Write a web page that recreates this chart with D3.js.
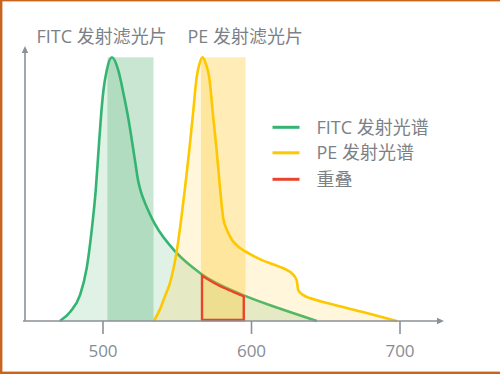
<!DOCTYPE html>
<html>
<head>
<meta charset="utf-8">
<script src="https://cdn.jsdelivr.net/npm/d3@7"></script>
<style>
  html, body { margin: 0; padding: 0; background: #fff; }
  svg { display: block; }
  text { font-family: "Open Sans", "Noto Sans CJK SC", sans-serif; }
</style>
</head>
<body>
<svg id="chart" width="500" height="375"></svg>
<script>
// Dados (comprimento de onda em nm, intensidade relativa 0-100)
const fitcNm  = [471, 478, 484.5, 489, 492.4, 495.1, 497, 498.7, 500.3, 502.5, 506, 510.3, 513.7, 517, 521.5, 523.6, 525.6, 528.3, 531.6, 535, 549.6, 565.3, 594.5, 618, 644];
const fitcVal = [0, 3.5, 9.8, 20, 34.5, 49.6, 64.8, 78, 87.5, 95, 100, 95, 86.5, 77, 61, 53.4, 48.9, 44.7, 40.5, 36.7, 25.8, 18.2, 9.8, 4.9, 0];

const peNm  = [534.3, 538.4, 541.8, 545.1, 549.6, 555.2, 558.1, 560.4, 563.1, 565, 567.1, 569.2, 571.5, 574.2, 576.5, 578.8, 581, 583.5, 586.9, 592.3, 599, 607.1, 617.8, 624.6, 627.3, 630.4, 631.5, 634.9, 639.4, 651.7, 674.4, 698];
const peVal = [0, 4.5, 9.5, 14.4, 26.3, 50.4, 64.8, 77.4, 92.5, 97.6, 100, 97.6, 92.5, 77.4, 64.8, 50.4, 38.9, 34.5, 30.7, 27.7, 25.4, 23.1, 20.8, 19.1, 18, 15.5, 11.7, 9.8, 8.7, 6.7, 3.5, 0];

// Faixas dos filtros de emissão
const fitcFiltro = [503, 534];
const peFiltro = [566, 596];

const ticksX = [500, 600, 700];
const titulos = ["FITC 发射滤光片", "PE 发射滤光片"];
const legendaRotulos = ["FITC 发射光谱", "PE 发射光谱", "重叠"];

const corFitc = "#33b473";
const corPe = "#fdc800";
const corOverlap = "#e8452b";
const corEixo = "#8a9197";
const corTexto = "#7b8186";

const svg = d3.select("#chart");

// Moldura laranja
svg.append("rect")
  .attr("x", 1.2).attr("y", 0.2)
  .attr("width", 520).attr("height", 372.6)
  .attr("fill", "none")
  .attr("stroke", "#c9641f")
  .attr("stroke-width", 2.4);

const x = d3.scaleLinear().domain([500, 700]).range([103, 400]);
const y = d3.scaleLinear().domain([0, 100]).range([321, 57.3]);

const fitcDados = fitcNm.map((n, i) => [n, fitcVal[i]]);
const peDados = peNm.map((n, i) => [n, peVal[i]]);

const area = d3.area()
  .x(d => x(d[0])).y0(y(0)).y1(d => y(d[1]))
  .curve(d3.curveMonotoneX);
const linha = d3.line()
  .x(d => x(d[0])).y(d => y(d[1]))
  .curve(d3.curveMonotoneX);

// FITC
svg.append("path").attr("d", area(fitcDados))
  .attr("fill", "rgb(62,166,94)").attr("fill-opacity", 0.16);
svg.append("rect")
  .attr("x", x(fitcFiltro[0])).attr("y", y(100))
  .attr("width", x(fitcFiltro[1]) - x(fitcFiltro[0]))
  .attr("height", y(0) - y(100))
  .attr("fill", "rgb(62,166,94)").attr("fill-opacity", 0.28);
const fitcLinha = svg.append("path").attr("d", linha(fitcDados))
  .attr("fill", "none").attr("stroke", corFitc).attr("stroke-width", 2.6);

// PE
svg.append("path").attr("d", area(peDados))
  .attr("fill", "rgb(255,200,40)").attr("fill-opacity", 0.17);
svg.append("rect")
  .attr("x", x(peFiltro[0])).attr("y", y(100))
  .attr("width", x(peFiltro[1]) - x(peFiltro[0]))
  .attr("height", y(0) - y(100))
  .attr("fill", "rgb(255,200,40)").attr("fill-opacity", 0.34);
svg.append("path").attr("d", linha(peDados))
  .attr("fill", "none").attr("stroke", corPe).attr("stroke-width", 2.6);

// Região de sobreposição: FITC dentro do filtro PE
function yNaCurva(node, px) {
  let lo = 0, hi = node.getTotalLength();
  for (let k = 0; k < 40; k++) {
    const mid = (lo + hi) / 2;
    if (node.getPointAtLength(mid).x < px) lo = mid; else hi = mid;
  }
  return node.getPointAtLength((lo + hi) / 2).y;
}
const x0 = x(peFiltro[0]) + 1, x1 = x(peFiltro[1]) - 1.8;
const pontos = [[x0, y(0) - 1]];
d3.range(0, 21).forEach(i => {
  const px = x0 + (x1 - x0) * i / 20;
  pontos.push([px, yNaCurva(fitcLinha.node(), px) + 1]);
});
pontos.push([x1, y(0) - 1]);
svg.append("path")
  .attr("d", d3.line()(pontos) + "Z")
  .attr("fill", "none")
  .attr("stroke", corOverlap)
  .attr("stroke-width", 2.4)
  .attr("stroke-linejoin", "miter");

// Eixos
svg.append("line")
  .attr("x1", 25).attr("x2", 25).attr("y1", y(0)).attr("y2", 50)
  .attr("stroke", corEixo).attr("stroke-width", 1.6);
svg.append("path").attr("d", "M25,46 L21.8,53 L28.2,53 Z").attr("fill", corEixo);

svg.append("line")
  .attr("x1", 23).attr("x2", 440).attr("y1", y(0)).attr("y2", y(0))
  .attr("stroke", corEixo).attr("stroke-width", 1.6);
svg.append("path").attr("d", `M444,${y(0)} L437,${y(0) - 3.2} L437,${y(0) + 3.2} Z`).attr("fill", corEixo);

svg.selectAll(".tick")
  .data(ticksX).enter().append("line")
  .attr("x1", d => x(d)).attr("x2", d => x(d))
  .attr("y1", y(0)).attr("y2", y(0) + 13)
  .attr("stroke", corEixo).attr("stroke-width", 1.6);
svg.selectAll(".ticklabel")
  .data(ticksX).enter().append("text")
  .attr("x", d => x(d)).attr("y", 356.5)
  .attr("text-anchor", "middle")
  .attr("font-size", 17)
  .attr("fill", "#868d94")
  .text(d => d);

// Títulos dos filtros
svg.append("text").attr("x", 36.5).attr("y", 43.3)
  .attr("font-size", 18).attr("fill", corTexto).text(titulos[0]);
svg.append("text").attr("x", 187.5).attr("y", 43.3)
  .attr("font-size", 18).attr("fill", corTexto).text(titulos[1]);

// Legenda
const coresLegenda = [corFitc, corPe, corOverlap];
const legY = [127.3, 152.8, 179.3];
legendaRotulos.forEach((rotulo, i) => {
  svg.append("line")
    .attr("x1", 272.5).attr("x2", 299.5)
    .attr("y1", legY[i]).attr("y2", legY[i])
    .attr("stroke", coresLegenda[i]).attr("stroke-width", 3);
  svg.append("text")
    .attr("x", 316.5).attr("y", legY[i] + 6.2)
    .attr("font-size", 18).attr("fill", corTexto)
    .text(rotulo);
});
</script>
</body>
</html>
